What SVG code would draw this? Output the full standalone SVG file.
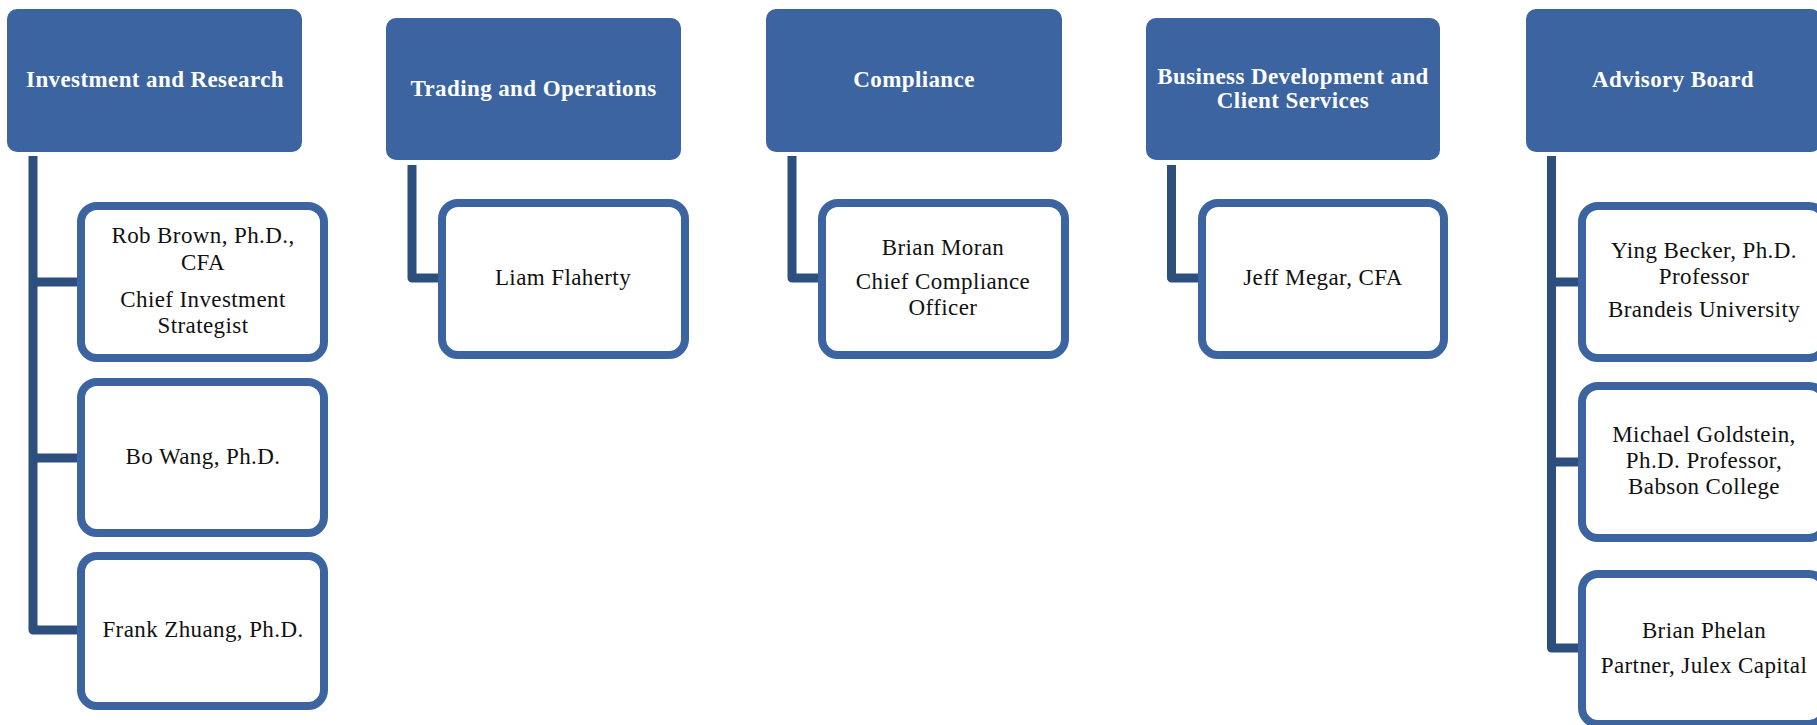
<svg xmlns="http://www.w3.org/2000/svg" width="1817" height="725" viewBox="0 0 1817 725">
<style>
.hd{fill:#3B64A0;}
.hdt{font-family:"Liberation Serif",serif;font-weight:bold;font-size:23px;letter-spacing:0.4px;fill:#FFFFFF;text-anchor:middle;}
.ch{fill:#FFFFFF;stroke:#3B64A0;stroke-width:8;}
.cht{font-family:"Liberation Serif",serif;font-size:23px;letter-spacing:0.4px;fill:#111111;text-anchor:middle;}
.cn{fill:none;stroke:#2D4F7E;stroke-width:9;stroke-linejoin:round;}
</style>
<rect width="1817" height="725" fill="#FFFFFF"/>
<g id="connectors">
<path class="cn" d="M33,156 V630 H81 M33,282 H81 M33,458 H81"/>
<path class="cn" d="M412,165 V278 H442"/>
<path class="cn" d="M792,156 V278 H822"/>
<path class="cn" d="M1171.5,165 V278 H1202"/>
<path class="cn" d="M1551.5,156 V648 H1582 M1551.5,282 H1582 M1551.5,462 H1582"/>
</g>
<g id="h-investment">
<rect class="hd" x="7" y="9" width="295" height="143" rx="10"/>
<text class="hdt" x="155" y="87">Investment and Research</text>
</g>
<g id="h-trading">
<rect class="hd" x="386" y="18" width="295" height="142" rx="10"/>
<text class="hdt" x="533.5" y="96">Trading and Operations</text>
</g>
<g id="h-compliance">
<rect class="hd" x="766" y="9" width="296" height="143" rx="10"/>
<text class="hdt" x="914" y="87">Compliance</text>
</g>
<g id="h-bizdev">
<rect class="hd" x="1146" y="18" width="294" height="142" rx="10"/>
<text class="hdt" x="1293" y="84">Business Development and</text>
<text class="hdt" x="1293" y="108">Client Services</text>
</g>
<g id="h-advisory">
<rect class="hd" x="1526" y="9" width="295" height="143" rx="10"/>
<text class="hdt" x="1673" y="87">Advisory Board</text>
</g>
<g id="c-rob">
<rect class="ch" x="81" y="206" width="243" height="152" rx="16"/>
<text class="cht" x="203" y="243">Rob Brown, Ph.D.,</text>
<text class="cht" x="203" y="270">CFA</text>
<text class="cht" x="203" y="307">Chief Investment</text>
<text class="cht" x="203" y="333">Strategist</text>
</g>
<g id="c-bo">
<rect class="ch" x="81" y="382" width="243" height="151" rx="16"/>
<text class="cht" x="203" y="464">Bo Wang, Ph.D.</text>
</g>
<g id="c-frank">
<rect class="ch" x="81" y="556" width="243" height="150" rx="16"/>
<text class="cht" x="203" y="637">Frank Zhuang, Ph.D.</text>
</g>
<g id="c-liam">
<rect class="ch" x="442" y="203" width="243" height="152" rx="16"/>
<text class="cht" x="563" y="285">Liam Flaherty</text>
</g>
<g id="c-brian-moran">
<rect class="ch" x="822" y="203" width="243" height="152" rx="16"/>
<text class="cht" x="943" y="255">Brian Moran</text>
<text class="cht" x="943" y="289">Chief Compliance</text>
<text class="cht" x="943" y="315">Officer</text>
</g>
<g id="c-jeff">
<rect class="ch" x="1202" y="203" width="242" height="152" rx="16"/>
<text class="cht" x="1323" y="285">Jeff Megar, CFA</text>
</g>
<g id="c-ying">
<rect class="ch" x="1582" y="206" width="243" height="152" rx="16"/>
<text class="cht" x="1704" y="258">Ying Becker, Ph.D.</text>
<text class="cht" x="1704" y="284">Professor</text>
<text class="cht" x="1704" y="317">Brandeis University</text>
</g>
<g id="c-michael">
<rect class="ch" x="1582" y="386" width="243" height="152" rx="16"/>
<text class="cht" x="1704" y="442">Michael Goldstein,</text>
<text class="cht" x="1704" y="468">Ph.D. Professor,</text>
<text class="cht" x="1704" y="494">Babson College</text>
</g>
<g id="c-brian-phelan">
<rect class="ch" x="1582" y="574" width="243" height="150" rx="16"/>
<text class="cht" x="1704" y="638">Brian Phelan</text>
<text class="cht" x="1704" y="673">Partner, Julex Capital</text>
</g>
</svg>
